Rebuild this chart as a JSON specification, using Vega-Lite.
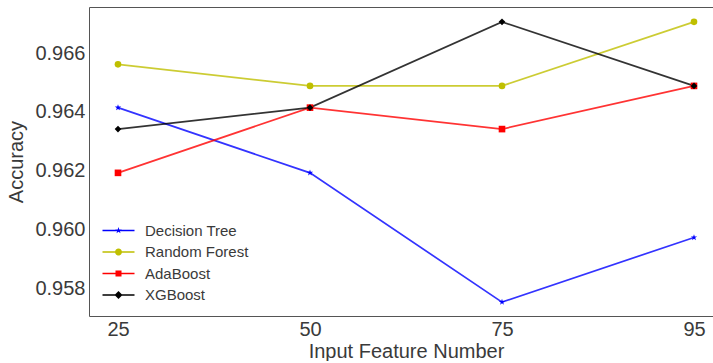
{
  "$schema": "https://vega.github.io/schema/vega-lite/v6.json",
  "width": 624,
  "height": 309,
  "padding": {"left": 6, "top": 7, "right": 0, "bottom": 0},
  "background": "white",
  "config": {
    "view": {"stroke": "#555555", "strokeWidth": 1},
    "font": "Liberation Sans",
    "axis": {
      "grid": false, "ticks": false, "domain": false,
      "labelFont": "Liberation Sans", "labelFontSize": 20, "labelColor": "#3a3a3a",
      "titleFont": "Liberation Sans", "titleFontSize": 20, "titleFontWeight": "normal", "titleColor": "#3a3a3a"
    }
  },
  "data": {
    "values": [
      {"model": "Decision Tree", "features": 25, "accuracy": 0.96414},
      {"model": "Decision Tree", "features": 50, "accuracy": 0.96192},
      {"model": "Decision Tree", "features": 75, "accuracy": 0.95752},
      {"model": "Decision Tree", "features": 95, "accuracy": 0.95972},
      {"model": "Random Forest", "features": 25, "accuracy": 0.965615},
      {"model": "Random Forest", "features": 50, "accuracy": 0.96488},
      {"model": "Random Forest", "features": 75, "accuracy": 0.96488},
      {"model": "Random Forest", "features": 95, "accuracy": 0.96706},
      {"model": "AdaBoost", "features": 25, "accuracy": 0.96192},
      {"model": "AdaBoost", "features": 50, "accuracy": 0.96414},
      {"model": "AdaBoost", "features": 75, "accuracy": 0.96341},
      {"model": "AdaBoost", "features": 95, "accuracy": 0.96488},
      {"model": "XGBoost", "features": 25, "accuracy": 0.96341},
      {"model": "XGBoost", "features": 50, "accuracy": 0.96414},
      {"model": "XGBoost", "features": 75, "accuracy": 0.96706},
      {"model": "XGBoost", "features": 95, "accuracy": 0.96488}
    ]
  },
  "encoding": {
    "x": {
      "field": "features", "type": "ordinal",
      "scale": {"type": "point", "range": [29, 605], "padding": 0},
      "axis": {"labelAngle": 0, "labelPadding": 3, "titlePadding": 2},
      "title": "Input Feature Number"
    },
    "y": {
      "field": "accuracy", "type": "quantitative",
      "scale": {"domain": [0.957047, 0.967566], "nice": false, "zero": false},
      "axis": {"values": [0.958, 0.96, 0.962, 0.964, 0.966], "format": ".3f", "labelPadding": 4, "titlePadding": 8},
      "title": "Accuracy"
    }
  },
  "layer": [
    {
      "mark": {"type": "line", "strokeWidth": 1.7, "opacity": 0.8},
      "encoding": {
        "color": {
          "field": "model", "type": "nominal",
          "scale": {"domain": ["Decision Tree", "Random Forest", "AdaBoost", "XGBoost"], "range": ["#0000ff", "#bfbf00", "#ff0000", "#000000"]},
          "legend": null
        }
      }
    },
    {
      "mark": {"type": "point", "filled": true, "opacity": 1, "size": 44},
      "encoding": {
        "color": {
          "field": "model", "type": "nominal",
          "scale": {"domain": ["Decision Tree", "Random Forest", "AdaBoost", "XGBoost"], "range": ["#0000ff", "#bfbf00", "#ff0000", "#000000"]},
          "legend": null
        },
        "shape": {
          "field": "model", "type": "nominal",
          "scale": {
            "domain": ["Decision Tree", "Random Forest", "AdaBoost", "XGBoost"],
            "range": [
              "M0,-1L0.2245,-0.309L0.951,-0.309L0.363,0.118L0.588,0.809L0,0.382L-0.588,0.809L-0.363,0.118L-0.951,-0.309L-0.2245,-0.309Z",
              "circle", "square", "diamond"
            ]
          },
          "legend": null
        }
      }
    },
    {
      "mark": {"type": "point", "filled": true, "opacity": 0, "size": 196},
      "encoding": {
        "color": {
          "field": "model", "type": "nominal",
          "scale": {"domain": ["Decision Tree", "Random Forest", "AdaBoost", "XGBoost"], "range": ["#0000ff", "#bfbf00", "#ff0000", "#000000"]},
          "legend": {
            "title": null, "orient": "bottom-left", "offset": 13, "padding": 0,
            "labelFont": "Liberation Sans", "labelFontSize": 15, "labelColor": "#3a3a3a",
            "symbolSize": 196, "symbolOpacity": 1, "symbolStrokeWidth": 0,
            "labelOffset": 28, "rowPadding": 5.5
          }
        },
        "shape": {
          "field": "model", "type": "nominal",
          "scale": {
            "domain": ["Decision Tree", "Random Forest", "AdaBoost", "XGBoost"],
            "range": [
              "M-1,-0.107H3.572V0.107H-1Z M1.286,-0.5L1.398,-0.155L1.762,-0.155L1.468,0.059L1.58,0.405L1.286,0.191L0.992,0.405L1.104,0.059L0.81,-0.155L1.174,-0.155Z",
              "M-1,-0.107H3.572V0.107H-1Z M1.786,0A0.5,0.5 0 1,1 0.786,0A0.5,0.5 0 1,1 1.786,0Z",
              "M-1,-0.107H3.572V0.107H-1Z M0.856,-0.43H1.716V0.43H0.856Z",
              "M-1,-0.107H3.572V0.107H-1Z M1.286,-0.57L1.856,0L1.286,0.57L0.716,0Z"
            ]
          },
          "legend": {
            "title": null, "orient": "bottom-left", "offset": 13, "padding": 0,
            "labelFont": "Liberation Sans", "labelFontSize": 15, "labelColor": "#3a3a3a",
            "symbolSize": 196, "symbolOpacity": 1, "symbolStrokeWidth": 0,
            "labelOffset": 28, "rowPadding": 5.5
          }
        }
      }
    }
  ],
  "resolve": {"scale": {"shape": "independent", "color": "independent"}}
}
